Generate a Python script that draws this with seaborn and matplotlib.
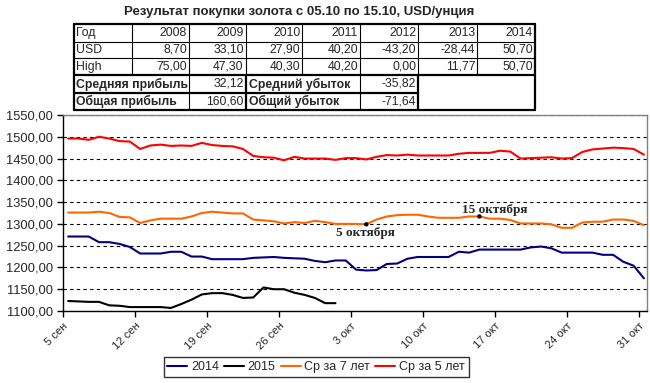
import numpy as np
import pandas as pd
import matplotlib.pyplot as plt
import seaborn as sns

sns.set_style('white')
plt.rcParams['font.family'] = ['Liberation Sans', 'DejaVu Sans']

# ── данные ──────────────────────────────────────────────────────────────────
start = pd.Timestamp('2015-09-05')

gold_2014 = [1271, 1271, 1271, 1258, 1258, 1254, 1247, 1232, 1232, 1232,
             1236, 1236, 1225, 1225, 1219, 1219, 1219, 1219, 1222, 1223,
             1224, 1222, 1221, 1220, 1215, 1212, 1216, 1216, 1195, 1193,
             1194, 1208, 1209, 1220, 1224, 1224, 1224, 1224, 1236, 1234,
             1241, 1241, 1241, 1241, 1241, 1246, 1248, 1244, 1234, 1234,
             1234, 1234, 1229, 1229, 1213, 1204, 1175]
gold_2015 = [1123, 1122, 1121, 1121, 1113, 1112, 1109, 1109, 1109, 1109,
             1107, 1116, 1126, 1138, 1141, 1141, 1137, 1130, 1131, 1154,
             1150, 1150, 1142, 1137, 1130, 1118, 1118]
avg_7y = [1326, 1326, 1326, 1328, 1325, 1316, 1315, 1302, 1308, 1312,
          1312, 1312, 1317, 1325, 1328, 1326, 1324, 1324, 1310, 1308,
          1306, 1301, 1304, 1302, 1307, 1304, 1300, 1300, 1300, 1299,
          1310, 1317, 1320, 1321, 1321, 1317, 1314, 1314, 1314, 1317,
          1317, 1312, 1312, 1309, 1301, 1301, 1301, 1299, 1291, 1291,
          1303, 1305, 1305, 1310, 1310, 1307, 1297]
avg_5y = [1496, 1496, 1493, 1500, 1496, 1490, 1489, 1472, 1480, 1482,
          1479, 1480, 1479, 1486, 1481, 1479, 1478, 1472, 1456, 1453,
          1452, 1446, 1454, 1450, 1450, 1450, 1447, 1451, 1451, 1448,
          1454, 1458, 1457, 1459, 1457, 1457, 1457, 1457, 1461, 1463,
          1463, 1463, 1468, 1466, 1450, 1451, 1452, 1453, 1450, 1451,
          1465, 1471, 1473, 1475, 1474, 1472, 1459]

series_names = ['2014', '2015', 'Ср за 7 лет', 'Ср за 5 лет']
series_colors = ['#000080', '#000000', '#FF6600', '#FF0000']

tick_labels = ['5 сен', '12 сен', '19 сен', '26 сен', '3 окт',
               '10 окт', '17 окт', '24 окт', '31 окт']
marker_idx = [29, 40]
marker_text = ['5 октября', '15 октября']

title = 'Результат покупки золота с 05.10 по 15.10, USD/унция'
years = ['2008', '2009', '2010', '2011', '2012', '2013', '2014']
usd_row = ['8,70', '33,10', '27,90', '40,20', '-43,20', '-28,44', '50,70']
high_row = ['75,00', '47,30', '40,30', '40,20', '0,00', '11,77', '50,70']
summary = [('Средняя прибыль', '32,12', 'Средний убыток', '-35,82'),
           ('Общая прибыль', '160,60', 'Общий убыток', '-71,64')]

# точки ставятся в середину дня, как в Excel
frames = []
for name, vals in zip(series_names, [gold_2014, gold_2015, avg_7y, avg_5y]):
    dates = start + pd.to_timedelta(np.arange(len(vals)) + 0.5, unit='D')
    frames.append(pd.DataFrame({'date': dates, 'price': vals, 'series': name}))
df = pd.concat(frames, ignore_index=True)

# ── график ─────────────────────────────────────────────────────────────────
W, H = 650, 383
fig = plt.figure(figsize=(W / 100, H / 100), dpi=100)
ax = fig.add_axes([63 / W, 1 - 311 / H, (647 - 63) / W, (311 - 115) / H])

sns.lineplot(data=df, x='date', y='price', hue='series', hue_order=series_names,
             palette=dict(zip(series_names, series_colors)), estimator=None,
             linewidth=1.5, legend=False, ax=ax)

# отметки 5 и 15 октября
mk = df[df['series'] == 'Ср за 7 лет'].iloc[marker_idx]
sns.scatterplot(x=mk['date'], y=mk['price'], color='black', s=10, ax=ax,
                edgecolor='none', zorder=5)
offsets = [(-0.3, -6.2), (11, 4.7)]
for (d, p), txt, off in zip(zip(mk['date'], mk['price']), marker_text, offsets):
    ax.annotate(txt, (d, p), xytext=off, textcoords='offset points',
                ha='center', va='center', fontsize=9.5, fontweight='bold',
                family='Liberation Serif')

ax.set_xlim(start, start + pd.Timedelta(days=56.8))
ax.set_ylim(1100, 1550)
yt = np.arange(1100, 1551, 50)
ax.set_yticks(yt)
ax.set_yticklabels([f'{v:.2f}'.replace('.', ',') for v in yt], fontsize=9.3)
ax.set_xticks(pd.date_range(start, periods=len(tick_labels), freq='7D'))
ax.set_xticklabels(tick_labels, rotation=45, ha='right', rotation_mode='anchor',
                   fontsize=8)
ax.set_xlabel('')
ax.set_ylabel('')
ax.tick_params(axis='both', direction='out', length=4, width=1, color='black',
               pad=3, left=True, bottom=True)
ax.yaxis.grid(True, color='black', linestyle=(0, (3, 3)), linewidth=0.8)
for s in ['left', 'bottom']:
    ax.spines[s].set_color('black')
    ax.spines[s].set_linewidth(1)
for s in ['top', 'right']:
    ax.spines[s].set_color('#808080')
    ax.spines[s].set_linewidth(1)

# легенда
handles = [plt.Line2D([], [], color=c, lw=1.5) for c in series_colors]
leg = fig.legend(handles, series_names, loc='center',
                 bbox_to_anchor=(316 / W, 1 - 367 / H), ncol=4, fontsize=9,
                 frameon=True, fancybox=False, handlelength=1.6,
                 handletextpad=0.3, columnspacing=0.4, borderpad=0.3,
                 borderaxespad=0)
leg.get_frame().set_edgecolor('black')
leg.get_frame().set_linewidth(1)

# ── таблица (в пикселях) ────────────────────────────────────────────────────
tax = fig.add_axes([0, 0, 1, 1])
tax.set_xlim(0, W)
tax.set_ylim(H, 0)
tax.axis('off')
tax.patch.set_alpha(0)

cx = [74, 131.7, 189, 245.7, 302.3, 360, 418.3, 477.3, 535]
ry = [24, 41.5, 58.3, 75.3, 92.7, 110]
thin, thick = 0.8, 1.6

tax.text(299, 12.5, title, ha='center', va='center', fontsize=9.5,
         fontweight='bold')

for x in cx[1:-1]:
    tax.plot([x, x], [ry[0], ry[3]], color='black', lw=thin)
for y in ry[1:3]:
    tax.plot([cx[0], cx[-1]], [y, y], color='black', lw=thin)
for y in [ry[0], ry[3], ry[5]]:
    tax.plot([cx[0], cx[-1]], [y, y], color='black', lw=thick)
tax.plot([cx[0], cx[6]], [ry[4], ry[4]], color='black', lw=thick)
for x in [cx[0], cx[-1]]:
    tax.plot([x, x], [ry[0], ry[5]], color='black', lw=thick)
for x in [cx[3], cx[6]]:
    tax.plot([x, x], [ry[3], ry[5]], color='black', lw=thick)
for x in [cx[2], cx[5]]:
    tax.plot([x, x], [ry[3], ry[5]], color='black', lw=thin)

fs = 8.8
rows = [('Год', years), ('USD', usd_row), ('High', high_row)]
for i, (lab, vals) in enumerate(rows):
    yc = (ry[i] + ry[i + 1]) / 2
    tax.text(cx[0] + 2, yc, lab, ha='left', va='center', fontsize=fs)
    for j, v in enumerate(vals):
        tax.text(cx[j + 2] - 2, yc, v, ha='right', va='center', fontsize=fs)

for i, (l1, v1, l2, v2) in enumerate(summary):
    yc = (ry[i + 3] + ry[i + 4]) / 2
    tax.text(cx[0] + 2, yc, l1, ha='left', va='center', fontsize=fs,
             fontweight='bold')
    tax.text(cx[3] - 2, yc, v1, ha='right', va='center', fontsize=fs)
    tax.text(cx[3] + 3, yc, l2, ha='left', va='center', fontsize=fs,
             fontweight='bold')
    tax.text(cx[6] - 2, yc, v2, ha='right', va='center', fontsize=fs)

plt.savefig('out.png', dpi=100)
plt.close()
